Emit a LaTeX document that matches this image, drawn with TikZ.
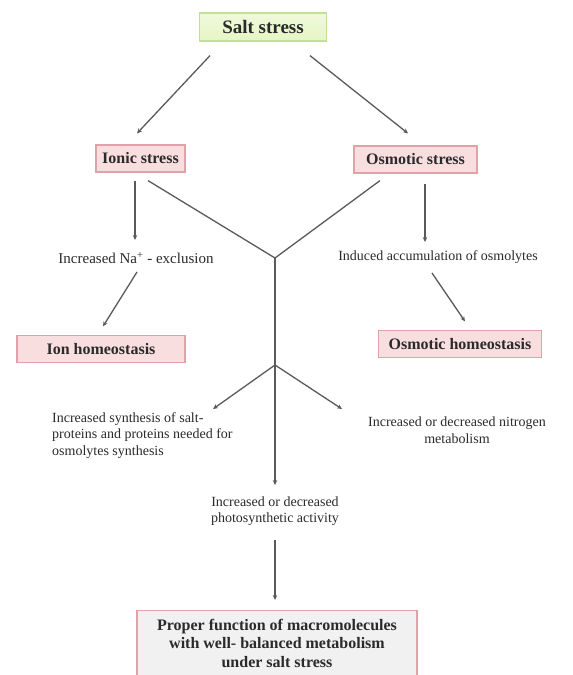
\documentclass[tikz,border=0pt]{standalone}
\usepackage{fontspec}
\setmainfont{Liberation Serif}
\usetikzlibrary{arrows.meta,calc}
\definecolor{linec}{HTML}{5A5A5A}
\definecolor{pinkfill}{HTML}{F9DEDF}
\definecolor{pinkdraw}{HTML}{E0A2A8}
\definecolor{greenfill}{HTML}{E6F5C4}
\definecolor{greendraw}{HTML}{C2E092}
\definecolor{greyfill}{HTML}{F1F1F1}
\definecolor{txt}{HTML}{2A2A2A}
\tikzset{
  pinkbox/.style={draw=pinkdraw, fill=pinkfill, line width=1.2pt, inner sep=0pt, text=txt,
    font=\fontsize{16}{18}\selectfont\bfseries},
  saltbox/.style={draw=greendraw, top color=greenfill!60, bottom color=greenfill, line width=1.2pt,
    inner sep=0pt, text=txt, font=\fontsize{19}{21}\selectfont\bfseries},
  lbl/.style={inner sep=0pt, text=txt, font=\fontsize{14}{16.5}\selectfont},
  conn/.style={draw=linec, line width=1.3pt},
  arr/.style={conn, -{Stealth[length=5pt,width=4.5pt]}}
}
\begin{document}
\begin{tikzpicture}[x=1pt,y=-1pt]
\useasboundingbox (0,0) rectangle (573,675);
\fill[white] (0,0) rectangle (573,675);

% boxes
\node[saltbox, minimum width=127pt, minimum height=28pt] (salt) at (263,27) {Salt stress};
\node[pinkbox, minimum width=89pt, minimum height=27pt] (ionic) at (140.5,158.5) {Ionic stress};
\node[pinkbox, minimum width=123pt, minimum height=27pt] (osm) at (415.5,159.5) {Osmotic stress};
\node[pinkbox, minimum width=168pt, minimum height=27pt] (ionh) at (101,349) {Ion homeostasis};
\node[pinkbox, minimum width=163pt, minimum height=27pt] (osmh) at (460,344) {Osmotic homeostasis};
\node[pinkbox, fill=greyfill, minimum width=280pt, minimum height=80pt, anchor=north] (bot) at (277,610) {};
\node[lbl, font=\fontsize{16}{18.5}\selectfont\bfseries, align=center, anchor=north] (bottxt) at (277,619)
  {Proper function of macromolecules\\with well- balanced metabolism\\under salt stress};

% text labels
\node[lbl, font=\fontsize{15}{17}\selectfont] (na) at (136,258) {Increased Na\textsuperscript{+} - exclusion};
\node[lbl] (ind) at (438,257) {Induced accumulation of osmolytes};
\node[lbl, align=left, anchor=north west] (lt) at (52,412)
  {Increased synthesis of salt-\\proteins and proteins needed for\\osmolytes synthesis};
\node[lbl, align=center] (rt) at (457,430) {Increased or decreased nitrogen\\metabolism};
\node[lbl, align=center] (photo) at (275,511) {Increased or decreased\\photosynthetic activity};

% junctions
\coordinate (j1) at (275,258);
\coordinate (j2) at (275,365);

% connectors
\draw[arr] ([xshift=-53pt,yshift=-14pt]salt.south) -- ([xshift=-3.5pt,yshift=11pt]ionic.north);
\draw[arr] ([xshift=47pt,yshift=-14pt]salt.south) -- ([xshift=-7.5pt,yshift=12pt]osm.north);
\draw[arr] ([xshift=-5.5pt,yshift=-8pt]ionic.south) -- ([xshift=-1pt,yshift=18pt]na.center);
\draw[conn] ([xshift=7.5pt,yshift=-8pt]ionic.south) -- (j1);
\draw[conn] ([xshift=-35.5pt,yshift=-7pt]osm.south) -- (j1);
\draw[arr] ([xshift=9.5pt,yshift=-10pt]osm.south) -- ([xshift=-13pt,yshift=15pt]ind.center);
\draw[arr] ([xshift=1pt,yshift=-14pt]na.center) -- ([xshift=2pt,yshift=8.5pt]ionh.north);
\draw[arr] ([xshift=-6pt,yshift=-16pt]ind.center) -- ([xshift=5pt,yshift=8.5pt]osmh.north);
\draw[conn] (j1) -- (j2);
\draw[arr] (j2) -- ([xshift=161pt,yshift=3pt]lt.north west);
\draw[arr] (j2) -- ([xshift=-115pt,yshift=21pt]rt.center);
\draw[arr] (j2) -- ([yshift=26pt]photo.center);
\draw[arr] ([yshift=-29pt]photo.center) -- ([xshift=-2pt,yshift=10pt]bot.north);
\end{tikzpicture}
\end{document}
